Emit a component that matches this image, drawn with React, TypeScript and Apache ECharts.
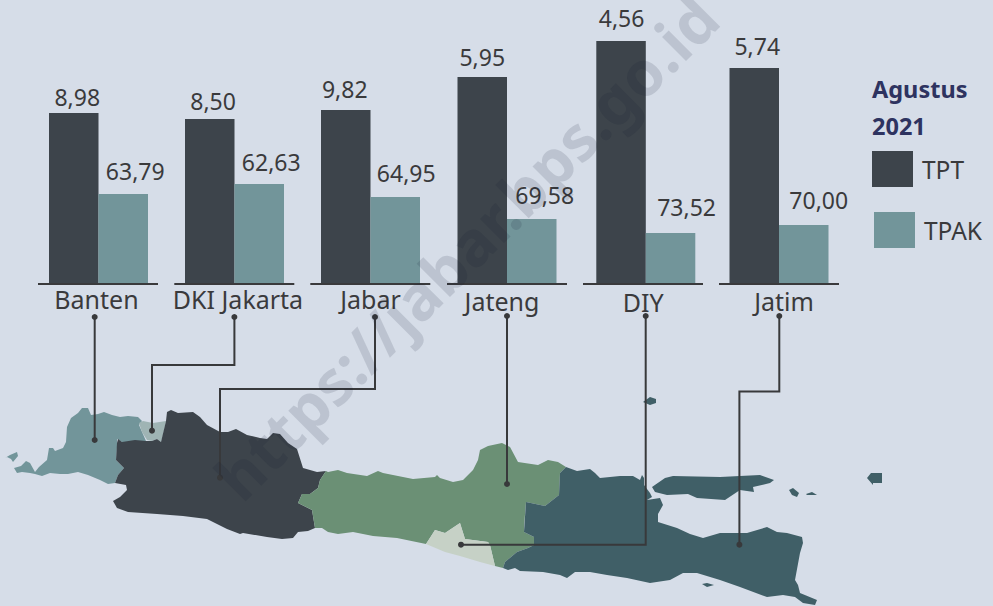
import React, { useEffect, useRef } from "react";
import * as echarts from "echarts";

const provinces = ["Banten", "DKI Jakarta", "Jabar", "Jateng", "DIY", "Jatim"];
const tpt = [8.98, 8.5, 9.82, 5.95, 4.56, 5.74];
const tpak = [63.79, 62.63, 64.95, 69.58, 73.52, 70.0];
// every panel of the source has its own, independent value scales
const tptAxisMax = [14.914, 14.63, 16.03, 8.163, 5.329, 7.547];
const tpakAxisMax = [201.3, 177.87, 212.0, 304.0, 409.4, 336.95];

const FONT = "'Noto Sans', sans-serif";
const INK = "#3a3a3c";
const DARK = "#3d444b";
const TEAL = "#72959a";
const BG = "#d6dde8";

const panelCenters = [98.5, 234.5, 370.5, 507, 645.8, 779];
const baselineStarts = [38, 174.3, 310.3, 447, 583, 719];
const labelShift = [-2, 3.5, 0, -5, -2.5, 5]; // axis label centre vs. bar centre
const labelMargin = [2, 2, 2, 4, 5, 4];
const tptLabelOffset = [[3.5, 0.5], [3.3, -1], [-1, -4.5], [0, -3], [0.5, -6], [3, -5]];
const tpakLabelOffset = [[12, -6.5], [12, -6], [11, -7], [13, -7], [16, -9], [15, -9]];

const mapShapes: { fill: string; pts: number[][] }[] = [
  { fill: TEAL, pts: [[5, 458], [10, 455], [17, 452], [18, 456], [13, 462], [11, 459], [7, 457]] },
  { fill: TEAL, pts: [[14, 468], [21, 466], [26, 461], [30, 463], [35, 472], [39, 467], [47, 460], [49, 448], [53, 448], [55, 451], [63, 448], [66, 442], [67, 427], [71, 418], [78, 413], [82, 408], [88, 408], [91, 415], [98, 414], [104, 412], [112, 415], [120, 417], [128, 416], [138, 417], [142, 421], [139, 425], [146, 441], [135, 442], [122, 442], [117, 439], [117, 447], [116, 460], [124, 468], [118, 475], [115, 483], [108, 484], [100, 480], [88, 475], [78, 472], [68, 474], [60, 474], [50, 473], [42, 476], [35, 474], [30, 473], [22, 472], [17, 473]] },
  { fill: "#9fb4b4", pts: [[139, 423], [143, 421], [153, 423], [166, 421], [163, 435], [161, 442], [157, 439], [152, 441], [147, 440], [142, 432]] },
  { fill: DARK, pts: [[167, 412], [171, 410], [178, 413], [193, 412], [200, 417], [207, 425], [220, 432], [228, 432], [236, 429], [247, 435], [260, 438], [267, 439], [273, 433], [280, 434], [288, 443], [297, 449], [303, 468], [317, 472], [326, 471], [320, 480], [318, 488], [310, 494], [302, 494], [298, 503], [312, 510], [315, 528], [308, 531], [298, 532], [293, 538], [282, 539], [267, 537], [243, 533], [240, 534], [227, 529], [207, 519], [183, 516], [157, 514], [128, 512], [117, 508], [113, 501], [120, 497], [127, 490], [126, 485], [115, 483], [118, 475], [124, 468], [116, 460], [117, 443], [118, 439], [122, 442], [135, 440], [146, 441], [152, 441], [157, 439], [161, 442], [166, 421]] },
  { fill: "#6b9075", pts: [[328, 472], [338, 470], [347, 473], [367, 476], [378, 471], [383, 473], [413, 479], [435, 477], [437, 475], [440, 478], [453, 482], [463, 480], [473, 470], [478, 460], [480, 450], [488, 446], [502, 443], [510, 447], [518, 462], [538, 465], [548, 460], [558, 462], [566, 467], [560, 473], [559, 495], [545, 506], [526, 502], [524, 527], [524, 532], [534, 537], [534, 545], [528, 548], [517, 552], [505, 562], [503, 568], [495, 566], [490, 545], [488, 542], [465, 539], [460, 523], [445, 533], [435, 530], [426, 544], [397, 538], [373, 536], [353, 532], [338, 534], [328, 532], [322, 528], [315, 528], [312, 510], [298, 503], [302, 494], [310, 494], [318, 488], [320, 480], [326, 471]] },
  { fill: "#c6d1c6", pts: [[426, 544], [435, 530], [445, 533], [460, 523], [465, 539], [488, 542], [490, 545], [495, 566], [480, 562], [460, 556], [445, 552]] },
  { fill: "#405f67", pts: [[566, 467], [577, 471], [590, 469], [595, 473], [600, 478], [620, 476], [633, 476], [640, 480], [642, 475], [644, 478], [644, 485], [650, 493], [652, 497], [647, 500], [660, 498], [663, 505], [658, 514], [658, 522], [677, 528], [690, 534], [703, 538], [720, 533], [747, 533], [767, 527], [777, 532], [787, 533], [802, 537], [803, 543], [800, 553], [795, 580], [798, 585], [800, 593], [817, 600], [815, 605], [803, 603], [795, 597], [783, 595], [767, 597], [748, 590], [740, 587], [720, 580], [697, 573], [683, 573], [670, 580], [650, 583], [627, 578], [607, 575], [590, 572], [575, 572], [567, 578], [560, 575], [543, 572], [520, 571], [515, 568], [508, 570], [503, 568], [505, 562], [517, 552], [528, 548], [534, 545], [534, 537], [524, 532], [526, 502], [545, 506], [559, 495], [560, 473]] },
  { fill: "#405f67", pts: [[652, 487], [665, 478], [673, 476], [720, 477], [760, 475], [774, 480], [770, 483], [753, 487], [754, 492], [740, 490], [725, 500], [697, 498], [688, 494], [667, 495], [655, 492]] },
  { fill: "#405f67", pts: [[643, 402], [650, 397], [656, 399], [656, 403], [650, 405]] },
  { fill: "#405f67", pts: [[789, 490], [793, 488], [799, 493], [797, 497], [792, 495]] },
  { fill: "#405f67", pts: [[806, 494], [812, 492], [817, 495], [807, 495]] },
  { fill: "#405f67", pts: [[702, 584], [707, 583], [714, 585], [707, 587]] },
  { fill: "#405f67", pts: [[867, 478], [871, 473], [882, 473], [882, 483], [873, 483], [873, 485]] },
];

const connectors: number[][][] = [
  [[94.7, 317], [94.7, 440]],
  [[234.4, 317], [234.4, 365], [152, 365], [152, 430.7]],
  [[375, 317], [375, 389], [220, 389], [220, 477.7]],
  [[507, 316], [507, 484]],
  [[645.7, 316], [645.7, 544.7], [461, 544.7]],
  [[779.3, 316], [779.3, 391.5], [739.4, 391.5], [739.4, 544.7]],
];

const comma = (v: number) => v.toFixed(2).replace(".", ",");

function buildOption() {
  const grid: any[] = [], xAxis: any[] = [], yAxis: any[] = [], series: any[] = [];
  provinces.forEach((name, i) => {
    grid.push({ left: panelCenters[i] - 60, width: 120, top: 0, height: 284 });
    const s = labelShift[i];
    xAxis.push({
      type: "category", gridIndex: i, data: [name],
      axisLine: { show: false }, axisTick: { show: false },
      axisLabel: {
        interval: 0, margin: labelMargin[i], fontFamily: FONT, fontSize: 25, color: INK,
        padding: s >= 0 ? [0, 0, 0, 2 * s] : [0, -2 * s, 0, 0],
      },
    });
    yAxis.push(
      { type: "value", gridIndex: i, min: 0, max: tptAxisMax[i], show: false },
      { type: "value", gridIndex: i, min: 0, max: tpakAxisMax[i], show: false },
    );
    const mk = (sname: string, v: number, yIdx: number, color: string, off: number[]) => ({
      type: "bar", name: sname, xAxisIndex: i, yAxisIndex: yIdx, data: [v],
      barWidth: 49.5, barGap: 0, itemStyle: { color },
      label: {
        show: true, position: "top", offset: off, formatter: () => comma(v),
        fontFamily: FONT, fontSize: 23, color: INK,
      },
    });
    series.push(mk("TPT", tpt[i], 2 * i, DARK, tptLabelOffset[i]));
    series.push(mk("TPAK", tpak[i], 2 * i + 1, TEAL, tpakLabelOffset[i]));
  });

  const graphic: any[] = [];
  mapShapes.forEach((m) =>
    graphic.push({ type: "polygon", z: 1, silent: true, shape: { points: m.pts }, style: { fill: m.fill } }),
  );
  baselineStarts.forEach((x) =>
    graphic.push({ type: "line", z: 5, silent: true, shape: { x1: x, y1: 284, x2: x + 120, y2: 284 }, style: { stroke: INK, lineWidth: 2 } }),
  );
  connectors.forEach((pts) => {
    graphic.push({ type: "polyline", z: 6, silent: true, shape: { points: pts }, style: { fill: "none", stroke: "#38393b", lineWidth: 2 } });
    [pts[0], pts[pts.length - 1]].forEach((p) =>
      graphic.push({ type: "circle", z: 6, silent: true, shape: { cx: p[0], cy: p[1], r: 3 }, style: { fill: "#38393b" } }),
    );
  });
  graphic.push({
    type: "text", z: 100, silent: true, x: 466, y: 247, rotation: Math.PI / 4,
    style: {
      text: "https://jabar.bps.go.id", fontFamily: FONT, fontWeight: "bold", fontSize: 62,
      fill: "rgba(15,25,45,0.13)", textAlign: "center", textVerticalAlign: "middle",
    },
  });

  const legendText = { fontFamily: FONT, fontSize: 24.5, color: INK, padding: [0, 0, 5, 4] };
  return {
    animation: false,
    backgroundColor: BG,
    title: {
      text: "Agustus\n2021", left: 872, top: 71, padding: 0,
      textStyle: { fontFamily: FONT, fontWeight: "bold", fontSize: 23.5, lineHeight: 36.5, color: "#2e3360" },
    },
    legend: [
      { data: ["TPT"], left: 872, top: 151, padding: 0, icon: "rect", itemWidth: 41, itemHeight: 36, selectedMode: false, textStyle: legendText },
      { data: ["TPAK"], left: 874, top: 212, padding: 0, icon: "rect", itemWidth: 41, itemHeight: 36, selectedMode: false, textStyle: legendText },
    ],
    grid, xAxis, yAxis, series, graphic,
  };
}

export default function App() {
  const ref = useRef<HTMLDivElement>(null);
  useEffect(() => {
    document.body.style.margin = "0";
    const chart = echarts.init(ref.current!, null, { renderer: "svg" });
    chart.setOption(buildOption() as any);
    return () => chart.dispose();
  }, []);
  return <div ref={ref} style={{ width: 993, height: 606 }} />;
}
